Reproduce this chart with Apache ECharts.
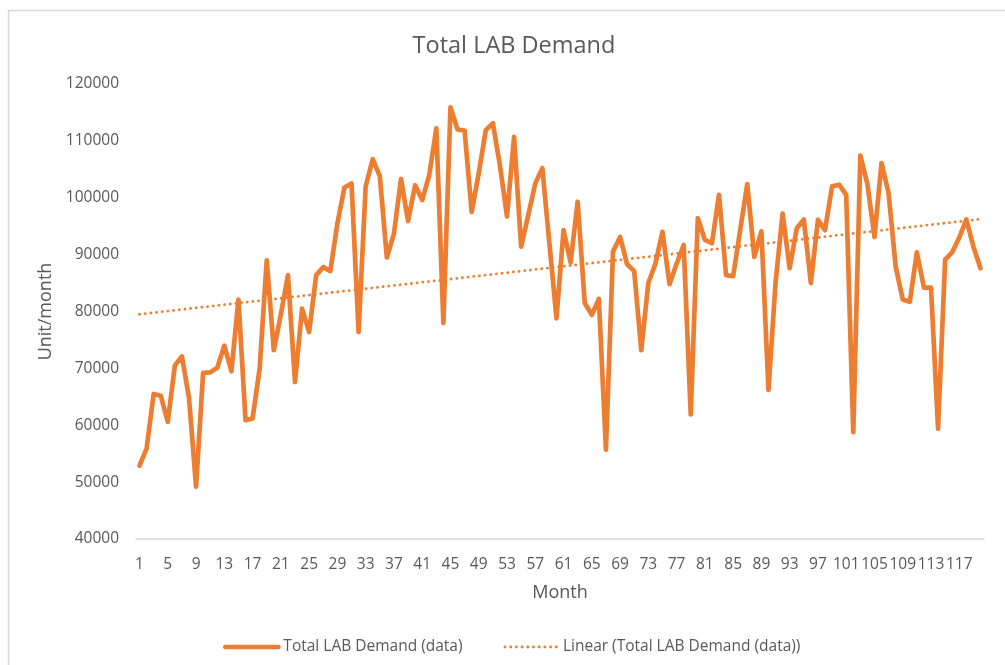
<!DOCTYPE html>
<html>
<head>
<meta charset="utf-8">
<title>Total LAB Demand</title>
<script src="https://cdn.jsdelivr.net/npm/echarts@6/dist/echarts.min.js"></script>
<style>
  html, body { margin: 0; padding: 0; background: #fff; }
  #chart { width: 1005px; height: 665px; }
</style>
</head>
<body>
<div id="chart"></div>
<script>
// month numbers on the category axis
const months = [];
for (let m = 1; m <= 120; m++) months.push(String(m));

// monthly demand (unit/month)
const demand = [
    52900, 55900, 65500, 65200, 60600, 70500, 72100, 64800, 49200, 69200,
    69300, 70100, 74000, 69500, 82100, 60900, 61200, 70000, 89000, 73200,
    79500, 86400, 67600, 80500, 76400, 86400, 87800, 87100, 95500, 101800,
    102500, 76400, 102000, 106800, 103800, 89500, 93700, 103300, 95900, 102200,
    99600, 104000, 112200, 78000, 115900, 112000, 111800, 97500, 104300, 111900,
    113100, 105700, 96700, 110700, 91400, 96900, 102500, 105200, 92000, 78800,
    94300, 88600, 99300, 81500, 79400, 82200, 55700, 90500, 93100, 88300,
    87100, 73200, 85000, 88400, 94000, 84800, 88400, 91700, 61900, 96400,
    92600, 92000, 100500, 86400, 86200, 94300, 102400, 89600, 94100, 66200,
    85000, 97200, 87600, 94600, 96200, 85000, 96100, 94300, 102000, 102300,
    100500, 58800, 107400, 102400, 93100, 106100, 100800, 87900, 82100, 81700,
    90400, 84200, 84200, 59400, 89100, 90400, 93000, 96200, 91400, 87600
];

const seriesNames = ['Total LAB Demand (data)', 'Linear (Total LAB Demand (data))'];
const yTicks = { min: 40000, max: 120000, step: 10000 };

// least squares trend line, as Excel's "Linear" trendline
function linearFit(vals) {
    const n = vals.length;
    let sx = 0, sy = 0, sxx = 0, sxy = 0;
    vals.forEach((v, i) => {
        const x = i + 1;
        sx += x; sy += v; sxx += x * x; sxy += x * v;
    });
    const b = (n * sxy - sx * sy) / (n * sxx - sx * sx);
    const a = (sy - b * sx) / n;
    return vals.map((v, i) => a + b * (i + 1));
}
const trend = linearFit(demand);

const orange = '#ED7D31';
const grey = '#595959';
const font = 'Open Sans';

const chart = echarts.init(document.getElementById('chart'));

const option = {
    animation: false,
    backgroundColor: '#fff',
    textStyle: { fontFamily: font },
    graphic: [{
        type: 'rect',
        shape: { x: 8.5, y: 10.5, width: 1020, height: 700 },
        style: { fill: 'none', stroke: '#D9D9D9', lineWidth: 1.5 },
        silent: true
    }],
    title: {
        text: 'Total LAB Demand',
        left: 509,
        textAlign: 'center',
        top: 29,
        textStyle: { fontFamily: font, fontSize: 23.5, fontWeight: 'normal', color: grey }
    },
    legend: {
        data: seriesNames,
        left: 218,
        top: 634,
        itemWidth: 53,
        itemHeight: 14,
        itemGap: 41,
        itemStyle: { opacity: 0 },
        lineStyle: { width: 'inherit', type: 'inherit', cap: 'round' },
        textStyle: { fontFamily: font, fontSize: 15.5, color: grey }
    },
    grid: { left: 136, right: 21, top: 84, bottom: 126 },
    xAxis: {
        type: 'category',
        data: months,
        boundaryGap: true,
        name: 'Month',
        nameLocation: 'middle',
        nameGap: 45,
        nameTextStyle: { fontFamily: font, fontSize: 18, color: grey },
        axisLine: { lineStyle: { color: '#D9D9D9', width: 1.5 } },
        axisTick: { show: false },
        axisLabel: { interval: 3, margin: 18, fontFamily: font, fontSize: 15.5, color: grey }
    },
    yAxis: {
        type: 'value',
        min: yTicks.min,
        max: yTicks.max,
        interval: yTicks.step,
        name: 'Unit/month',
        nameLocation: 'middle',
        nameGap: 80,
        nameTextStyle: { fontFamily: font, fontSize: 18, color: grey },
        axisLine: { show: false },
        axisTick: { show: false },
        splitLine: { show: false },
        axisLabel: {
            margin: 17, fontFamily: font, fontSize: 15.5, color: grey,
            formatter: v => String(v)
        }
    },
    series: [
        {
            name: seriesNames[0],
            type: 'line',
            data: demand,
            symbol: 'none',
            color: orange,
            lineStyle: { color: orange, width: 4.7, join: 'round', cap: 'round' }
        },
        {
            name: seriesNames[1],
            type: 'line',
            data: trend,
            symbol: 'none',
            color: orange,
            lineStyle: { color: orange, width: 2.8, type: [0.1, 5.6], cap: 'round' }
        }
    ]
};

chart.setOption(option);
</script>
</body>
</html>
